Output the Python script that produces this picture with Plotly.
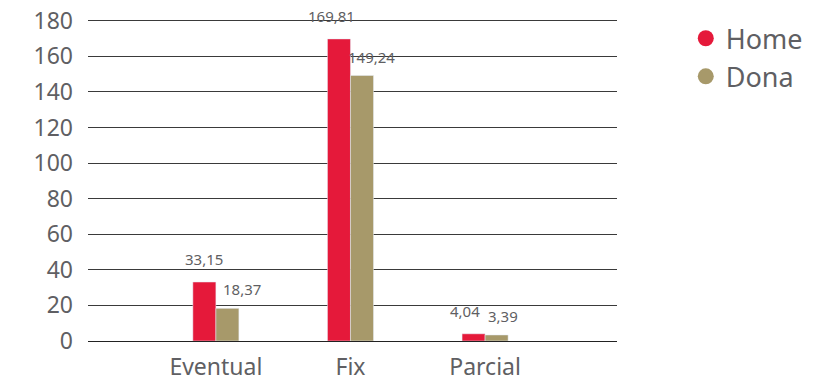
import plotly.graph_objects as go

categories = ["Eventual", "Fix", "Parcial"]
home = [33.15, 169.81, 4.04]
dona = [18.37, 149.24, 3.39]
home_labels = ["33,15", "169,81", "4,04"]
dona_labels = ["18,37", "149,24", "3,39"]
y_ticks = [0, 20, 40, 60, 80, 100, 120, 140, 160, 180]

RED = "#E5193A"
KHAKI = "#A7996A"
FONT = "'Noto Sans', sans-serif"
TXT = "#5f5f63"

home_xshift = [-12, -19, -20]
dona_xshift = [26, 21, 18]

fig = go.Figure()
fig.add_bar(x=categories, y=home, marker_color=RED, name="Home", showlegend=False)
fig.add_bar(x=categories, y=dona, marker_color=KHAKI, name="Dona", showlegend=False)
fig.add_scatter(x=[None], y=[None], mode="markers", name="Home",
                marker=dict(color=RED, size=23, symbol="circle"))
fig.add_scatter(x=[None], y=[None], mode="markers", name="Dona",
                marker=dict(color=KHAKI, size=23, symbol="circle"))

for i, c in enumerate(categories):
    fig.add_annotation(x=c, y=home[i], text=home_labels[i], showarrow=False,
                       yanchor="bottom", xshift=home_xshift[i], yshift=11,
                       font=dict(family=FONT, size=15, color=TXT), xanchor="center")
    fig.add_annotation(x=c, y=dona[i], text=dona_labels[i], showarrow=False,
                       yanchor="bottom", xshift=dona_xshift[i], yshift=7,
                       font=dict(family=FONT, size=15, color=TXT), xanchor="center")

fig.update_layout(
    width=839, height=383,
    margin=dict(l=88, r=222, t=19, b=42, autoexpand=False),
    paper_bgcolor="white", plot_bgcolor="white",
    barmode="group", bargap=0.658, bargroupgap=0,
    font=dict(family=FONT, color=TXT),
    xaxis=dict(range=[-0.95, 2.98], showgrid=False, showline=False, zeroline=False,
               tickfont=dict(size=23, color=TXT, family=FONT), ticks="",
               ticklabelstandoff=10, automargin=False),
    yaxis=dict(range=[0, 181], tickvals=y_ticks, showgrid=True, gridcolor="#3a3a3a",
               gridwidth=1, zeroline=True, zerolinecolor="#222", zerolinewidth=1,
               showline=False, tickfont=dict(size=23, color=TXT, family=FONT),
               ticklabelstandoff=14, automargin=False),
    legend=dict(x=1.13, y=1.015, xanchor="left", yanchor="top",
                font=dict(size=27, color=TXT, family=FONT),
                itemsizing="trace", tracegroupgap=0, bgcolor="rgba(0,0,0,0)"),
)

fig.write_html("out.html")
